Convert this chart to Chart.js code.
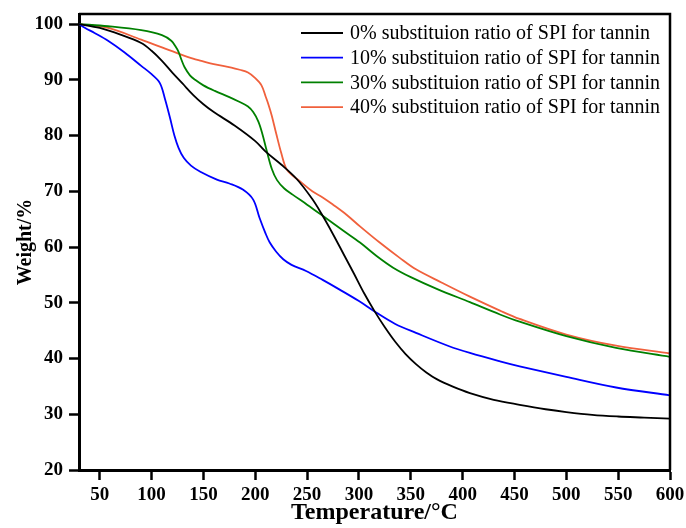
<!DOCTYPE html>
<html>
<head>
<meta charset="utf-8">
<script src="https://cdn.jsdelivr.net/npm/chart.js@4/dist/chart.umd.min.js"></script>
<style>
  html, body { margin: 0; padding: 0; background: #fff; }
  canvas { display: block; }
</style>
</head>
<body>
<canvas id="tga" width="686" height="528"></canvas>
<script>
// TGA curves: weight retained (%) versus temperature (°C)
const seriesLabels = [
  '0% substituion ratio of SPI for tannin',
  '10% substituion ratio of SPI for tannin',
  '30% substituion ratio of SPI for tannin',
  '40% substituion ratio of SPI for tannin'
];
const seriesColors = ['#000000', '#0000ff', '#008000', '#f0603c'];

const temp0 = [30, 50, 70, 90, 100, 110, 120, 130, 140, 150, 160, 180, 200, 210, 225, 240, 255, 265, 275, 285, 295, 305, 315, 325, 335, 345, 355, 365, 375, 390, 407, 430, 455, 480, 500, 525, 550, 575, 600];
const weight0 = [100, 99.3, 98.1, 96.6, 95.2, 93.4, 91.3, 89.3, 87.3, 85.6, 84.2, 81.8, 79.0, 77.1, 74.8, 72.2, 68.6, 65.6, 62.3, 58.8, 55.3, 51.7, 48.5, 45.6, 43.0, 40.8, 39.0, 37.5, 36.3, 35.0, 33.8, 32.6, 31.7, 30.9, 30.4, 29.9, 29.6, 29.4, 29.2];

const temp10 = [30, 36, 45, 58, 74, 90, 100, 108, 113, 118, 122, 126, 131, 138, 147, 163, 175, 188, 198, 204, 210, 214, 220, 227, 235, 249, 265, 281, 300, 317, 335, 355, 387, 407, 436, 455, 500, 548, 600];
const weight10 = [100, 99.3, 98.4, 97.0, 94.9, 92.5, 91.0, 89.4, 86.5, 83.0, 80.0, 77.8, 76.0, 74.6, 73.5, 72.1, 71.4, 70.3, 68.5, 65.3, 62.4, 60.8, 59.2, 57.8, 56.8, 55.7, 54.1, 52.4, 50.3, 48.2, 46.2, 44.6, 42.2, 41.0, 39.5, 38.6, 36.7, 34.8, 33.4];

const temp30 = [30, 58, 90, 110, 119, 123, 126, 129, 132, 137, 142, 150, 161, 175, 184, 193, 198, 203, 207, 211, 216, 221, 228, 236, 250, 265, 285, 301, 317, 333, 350, 375, 407, 436, 455, 500, 548, 600];
const weight30 = [100, 99.6, 98.9, 98.0, 97.0, 96.0, 95.0, 93.5, 92.2, 90.8, 90.0, 89.0, 88.0, 86.9, 86.1, 85.2, 84.2, 82.5, 80.2, 77.3, 74.0, 72.0, 70.5, 69.4, 67.6, 65.6, 62.9, 60.8, 58.4, 56.3, 54.6, 52.5, 50.1, 47.9, 46.6, 44.0, 41.9, 40.3];

const temp40 = [30, 58, 90, 110, 126, 140, 148, 160, 177, 185, 193, 200, 206, 210, 213, 216, 220, 225, 230, 236, 243, 255, 265, 275, 288, 301, 320, 339, 355, 380, 407, 436, 455, 500, 548, 600];
const weight40 = [100, 99.3, 97.2, 95.8, 94.7, 93.8, 93.4, 92.8, 92.2, 91.8, 91.3, 90.3, 89.0, 87.0, 85.4, 83.5, 80.5, 76.9, 74.0, 72.8, 71.8, 70.0, 68.9, 67.6, 65.8, 63.7, 60.8, 58.1, 56.0, 53.6, 51.1, 48.6, 47.1, 44.3, 42.3, 40.9];

const xTicks = [50, 100, 150, 200, 250, 300, 350, 400, 450, 500, 550, 600];
const yTicks = [20, 30, 40, 50, 60, 70, 80, 90, 100];

const temps = [temp0, temp10, temp30, temp40];
const weights = [weight0, weight10, weight30, weight40];

const SERIF = "'Liberation Serif', 'Times New Roman', serif";

const datasets = seriesLabels.map((label, i) => ({
  label,
  data: temps[i].map((t, k) => ({ x: t, y: weights[i][k] })),
  borderColor: seriesColors[i],
  backgroundColor: seriesColors[i],
  borderWidth: 1.8,
  pointRadius: 0,
  fill: false,
  tension: 0.35
}));

// closes the plot box on the top and right sides
const frame = {
  id: 'frame',
  afterDatasetsDraw(chart) {
    const { ctx, chartArea: a } = chart;
    ctx.save();
    ctx.strokeStyle = '#000';
    ctx.lineWidth = 2.5;
    ctx.beginPath();
    ctx.moveTo(a.left, a.top);
    ctx.lineTo(a.right, a.top);
    ctx.lineTo(a.right, a.bottom);
    ctx.stroke();
    ctx.restore();
  }
};

// legend stacked in the upper right corner of the plot
const cornerLegend = {
  id: 'cornerLegend',
  afterDraw(chart) {
    const { ctx, chartArea: a } = chart;
    const x0 = a.right - 369, lineLen = 42, gap = 7;
    const y0 = a.top + 19, rowH = 24.7;
    ctx.save();
    ctx.font = '20px ' + SERIF;
    ctx.textBaseline = 'middle';
    ctx.textAlign = 'left';
    chart.data.datasets.forEach((ds, i) => {
      const y = y0 + i * rowH;
      ctx.strokeStyle = ds.borderColor;
      ctx.lineWidth = 1.8;
      ctx.beginPath();
      ctx.moveTo(x0, y);
      ctx.lineTo(x0 + lineLen, y);
      ctx.stroke();
      ctx.fillStyle = '#000';
      ctx.fillText(ds.label, x0 + lineLen + gap, y + 1);
    });
    ctx.restore();
  }
};

new Chart(document.getElementById('tga'), {
  type: 'line',
  data: { datasets },
  plugins: [frame, cornerLegend],
  options: {
    responsive: false,
    animation: false,
    devicePixelRatio: 1,
    layout: { padding: { top: 14, right: 16, left: 0, bottom: 0 } },
    plugins: { legend: { display: false }, tooltip: { enabled: false } },
    scales: {
      x: {
        type: 'linear',
        min: 30,
        max: 600,
        afterFit(s) { s.height = 58; s.paddingLeft = 0; s.paddingRight = 0; },
        afterBuildTicks(s) { s.ticks = xTicks.map(v => ({ value: v })); },
        grid: { drawOnChartArea: false, drawTicks: true, tickLength: 10, tickWidth: 2.5, tickColor: '#000' },
        border: { display: true, color: '#000', width: 3 },
        ticks: { color: '#000', padding: 4, maxRotation: 0, font: { family: SERIF, size: 19, weight: 'bold' } },
        title: { display: true, text: 'Temperature/°C', color: '#000', padding: { top: 0, bottom: 1 }, font: { family: SERIF, size: 24, weight: 'bold' } }
      },
      y: {
        type: 'linear',
        min: 20,
        max: 101.8,
        afterFit(s) { s.width = 79; s.paddingTop = 0; s.paddingBottom = 0; },
        afterBuildTicks(s) { s.ticks = yTicks.map(v => ({ value: v })); },
        grid: { drawOnChartArea: false, drawTicks: true, tickLength: 10, tickWidth: 2.5, tickColor: '#000' },
        border: { display: true, color: '#000', width: 3 },
        ticks: { color: '#000', padding: 6, font: { family: SERIF, size: 19, weight: 'bold' } },
        title: { display: true, text: 'Weight/%', color: '#000', padding: { top: 14, bottom: 0 }, font: { family: SERIF, size: 20, weight: 'bold' } }
      }
    }
  }
});
</script>
</body>
</html>
